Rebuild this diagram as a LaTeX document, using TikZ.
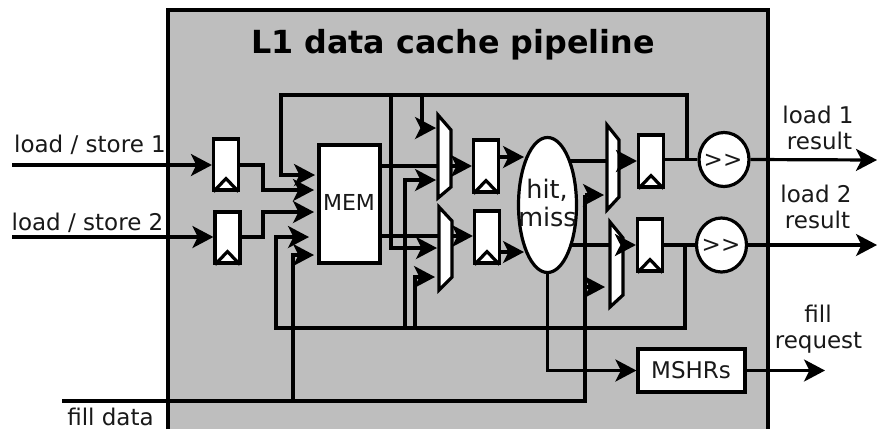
\documentclass[tikz,border=0pt]{standalone}
\usepackage{fontspec}
\setmainfont{DejaVu Sans}
\usetikzlibrary{arrows.meta,calc,shapes.geometric}
\tikzset{
  wire/.style={line width=3.2pt,draw=black,line join=miter},
  arr/.style={wire,-{Stealth[length=21pt,width=22pt,inset=5.5pt]}},
  regbox/.style={draw=black,fill=white,line width=3.2pt,minimum width=25pt,minimum height=50pt,inner sep=0pt},
  chev/.style={line width=3.2pt,line join=miter},
  muxshape/.style={draw=black,fill=white,line width=3.2pt,line join=miter},
  hidden/.style={inner sep=0pt,outer sep=0pt},
  lbl/.style={font=\fontsize{23pt}{26pt}\selectfont,inner sep=0pt,align=center,text=black!90,anchor=base},
  title/.style={font=\fontsize{31.8pt}{36pt}\selectfont\bfseries,inner sep=0pt,anchor=base},
  blockbox/.style={draw=black,fill=white,line width=3.2pt,inner sep=0pt},
  circ/.style={draw=black,fill=white,line width=3.2pt,ellipse,inner sep=0pt}
}
\newcommand{\clockreg}[4]{% name, x, y (centre), height
  \node[regbox,minimum height=#4pt] (#1) at (#2,#3) {};
  \draw[chev] ($(#1.south west)+(1.5pt,0)$) -- ($(#1.south)+(0,13pt)$) -- ($(#1.south east)+(-1.5pt,0)$);
}
\begin{document}
\begin{tikzpicture}[x=1pt,y=-1pt]
\useasboundingbox (0,0) rectangle (877,429);
\fill[white] (0,0) rectangle (877,429);
\fill[black!25.5] (168,10) rectangle (768,429);
\draw[line width=3.2pt] (168,429) -- (168,10) -- (768,10) -- (768,429);
\node[title] (ttl) at (453,53) {L1 data cache pipeline};

% registers
\clockreg{r1}{226}{164.5}{51}
\clockreg{r2}{227.5}{237.5}{51}
\clockreg{r3}{486}{166}{52}
\clockreg{r4}{487}{237}{52}
\clockreg{r5}{651}{161}{52}
\clockreg{r6}{650}{245}{52}

% memory, tag check, shifters, MSHRs
\node[blockbox,minimum width=61pt,minimum height=118pt] (mem) at (349.5,204) {};
\node[circ,minimum width=58pt,minimum height=135pt] (hit) at (547.5,205) {};
\node[circ,minimum width=50pt,minimum height=54pt] (s1) at (724,159.5) {};
\node[circ,minimum width=50pt,minimum height=54pt] (s2) at (721.5,245) {};
\node[blockbox,minimum width=107pt,minimum height=43pt] (mshr) at (691.5,370.5) {};

% multiplexers
\draw[muxshape] (438,115) -- (451,130) -- (451,187) -- (438,198) -- cycle;
\draw[muxshape] (439,207) -- (452,221) -- (452,277) -- (439,290) -- cycle;
\draw[muxshape] (607,125) -- (619,140) -- (619,197) -- (607,210) -- cycle;
\draw[muxshape] (610,222) -- (623,238) -- (623,295) -- (610,307) -- cycle;
\node[hidden,minimum width=13pt,minimum height=83pt] (m1) at (444.5,156.5) {};
\node[hidden,minimum width=13pt,minimum height=83pt] (m2) at (445.5,248.5) {};
\node[hidden,minimum width=12pt,minimum height=85pt] (m3) at (613,167.5) {};
\node[hidden,minimum width=13pt,minimum height=85pt] (m4) at (616.5,264.5) {};

% free ends
\coordinate (in1) at (12,165);
\coordinate (in2) at (12,237);
\coordinate (fillin) at (62,401);
\coordinate (o1) at (877,160);
\coordinate (o2) at (877,245);
\coordinate (o3) at (825,370.5);
\coordinate (memA) at (315,175);
\coordinate (memB) at (314,190);
\coordinate (memC) at (314,212);
\coordinate (memD) at (309,237);
\coordinate (memE) at (314,255);
\coordinate (m1a) at (436,128);
\coordinate (m1b) at (436,180);
\coordinate (m2a) at (437,248);
\coordinate (m2b) at (435,277);
\coordinate (m3a) at (604,195);
\coordinate (m4a) at (605,287);
\coordinate (fbTop) at (687,95);
\coordinate (fbBot) at (685,328);
\coordinate (hitA) at (570,161);
\coordinate (hitB) at (571,245);

% inputs and register outputs
\draw[arr] (in1) -- (r1.west |- in1);
\draw[arr] (in2) -- (r2.west |- in2);
\draw[arr] (r1.east |- 0,165) -- (263,165) -- (263,190) -- (memB);
\draw[arr] (r2.east |- 0,237) -- (263,237) -- (263,212) -- (memC);

% feedback from first output
\draw[arr] (fbTop |- s1.west) -- (fbTop) -- (281,95) -- (281,175) -- (memA);
\draw[arr] (391,95) -- (391,248) -- (m2a);
\draw[arr] (422,95) -- (422,128) -- (m1a);

% feedback from second output
\draw[arr] (fbBot |- s2.west) -- (fbBot) -- (276,328) -- (276,237) -- (memD);
\draw[arr] (405,328) -- (405,180) -- (m1b);
\draw[arr] (415,328) -- (415,277) -- (m2b);

% fill data
\draw[wire] (fillin) -- (585,401) -- (585,195);
\draw[arr] (293,401) -- (293,255) -- (memE);
\draw[arr] (585,195) -- (m3a);
\draw[arr] (585,287) -- (m4a);

% memory to muxes
\draw[wire] (mem.east |- 0,166) -- (m1.west |- 0,166);
\draw[wire] (mem.east |- 0,236) -- (m2.west |- 0,236);

% muxes to registers, registers to tag check
\draw[arr] (m1.east |- 0,166) -- (r3.west |- 0,166);
\draw[arr] (m2.east |- 0,236) -- (r4.west |- 0,236);
\draw[arr] (r3.east |- 0,157) -- (524,157);
\draw[arr] (r4.east |- 0,252) -- (524,252);

% tag check to muxes
\draw[wire] (hitA) -- (m3.west |- hitA);
\draw[wire] (hitB) -- (m4.west |- hitB);
\draw[arr] (m3.east |- hitA) -- (r5.west |- hitA);
\draw[arr] (m4.east |- hitB) -- (r6.west |- hitB);

% registers to shifters, outputs
\draw[wire] (r5.east |- s1.west) -- (s1.west);
\draw[wire] (r6.east |- s2.west) -- (s2.west);
\draw[arr] (s1.east) -- (o1);
\draw[arr] (s2.east) -- (o2);

% MSHRs
\draw[arr] (hit.south) |- (mshr.west);
\draw[arr] (mshr.east) -- (o3);

% labels
\node[lbl,font=\fontsize{22pt}{26pt}\selectfont] (tmem) at (349,210) {MEM};
\node[lbl,font=\fontsize{25.5pt}{28pt}\selectfont] (thit) at (547,198) {hit,};
\node[lbl,font=\fontsize{25.5pt}{28pt}\selectfont] (tmiss) at (547.5,226) {miss};
\node[lbl] (ts1) at (723,167) {>{}>};
\node[lbl] (ts2) at (721,252) {>{}>};
\node[lbl] (tm) at (691,378) {MSHRs};
\node[lbl] (t1) at (90,152) {load / store 1};
\node[lbl] (t2) at (87.5,230) {load / store 2};
\node[lbl] (t3a) at (818,123) {load 1};
\node[lbl] (t3b) at (819.5,149) {result};
\node[lbl] (t4a) at (816,202) {load 2};
\node[lbl] (t4b) at (817.5,228) {result};
\node[lbl] (t5a) at (818,322) {fill};
\node[lbl] (t5b) at (818.5,348) {request};
\node[lbl] (t6) at (110.5,425) {fill data};
\end{tikzpicture}
\end{document}
